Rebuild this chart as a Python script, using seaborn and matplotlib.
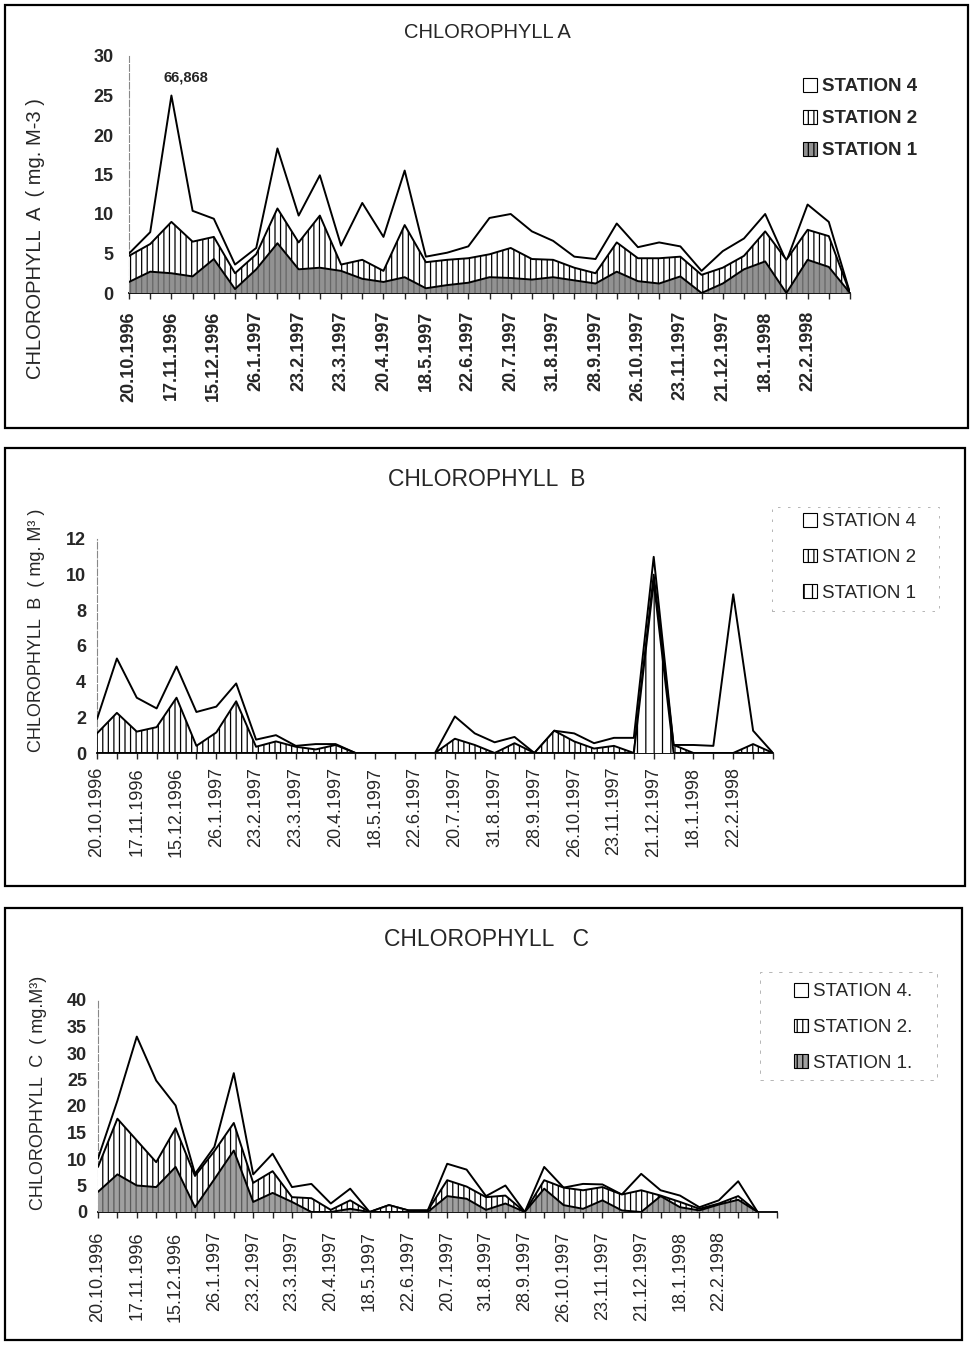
import numpy as np
import seaborn as sns
import matplotlib.pyplot as plt
from matplotlib.patches import Patch, Rectangle

# x-axis dates (every second sampling date is labelled)
dates = ["20.10.1996", "17.11.1996", "15.12.1996", "26.1.1997", "23.2.1997", "23.3.1997",
         "20.4.1997", "18.5.1997", "22.6.1997", "20.7.1997", "31.8.1997", "28.9.1997",
         "26.10.1997", "23.11.1997", "21.12.1997", "18.1.1998", "22.2.1998"]

# chlorophyll A (mg.M-3)
chl_a_st4 = [5.0, 7.7, 25.0, 10.4, 9.4, 3.6, 5.7, 18.3, 9.8, 14.9, 6.0, 11.4, 7.1, 15.5, 4.6,
             5.1, 5.9, 9.5, 10.0, 7.8, 6.6, 4.6, 4.3, 8.8, 5.8, 6.4, 5.9, 2.8, 5.3, 6.9,
             10.0, 4.0, 11.2, 9.0, 0.0]
chl_a_st2 = [4.7, 6.2, 9.0, 6.5, 7.1, 2.5, 4.9, 10.7, 6.4, 9.8, 3.6, 4.2, 2.8, 8.6, 3.9,
             4.2, 4.4, 4.9, 5.7, 4.3, 4.2, 3.2, 2.5, 6.4, 4.4, 4.4, 4.6, 2.3, 3.2, 4.7,
             7.8, 4.2, 8.0, 7.2, 0.0]
chl_a_st1 = [1.4, 2.7, 2.5, 2.1, 4.3, 0.5, 3.0, 6.3, 3.0, 3.2, 2.8, 1.8, 1.4, 2.0, 0.6,
             1.0, 1.3, 2.0, 1.9, 1.7, 2.0, 1.6, 1.2, 2.7, 1.5, 1.2, 2.1, 0.0, 1.2, 3.0,
             4.0, 0.0, 4.2, 3.3, 0.0]

# chlorophyll B (mg.M3)
chl_b_st4 = [1.9, 5.3, 3.1, 2.5, 4.85, 2.3, 2.6, 3.9, 0.75, 1.0, 0.4, 0.5, 0.5, 0.0, 0.0,
             0.0, 0.0, 0.0, 2.05, 1.1, 0.6, 0.9, 0.0, 1.25, 1.1, 0.55, 0.85, 0.85, 11.0, 0.45,
             0.45, 0.4, 8.9, 1.25, 0.0]
chl_b_st2 = [1.1, 2.25, 1.2, 1.45, 3.1, 0.4, 1.15, 2.9, 0.35, 0.65, 0.35, 0.2, 0.45, 0.0, 0.0,
             0.0, 0.0, 0.0, 0.8, 0.45, 0.0, 0.55, 0.0, 1.25, 0.65, 0.25, 0.4, 0.0, 10.0, 0.45,
             0.0, 0.0, 0.0, 0.5, 0.0]
chl_b_st1 = [0.0, 0.0, 0.0, 0.0, 0.0, 0.0, 0.0, 0.0, 0.0, 0.0, 0.0, 0.0, 0.0, 0.0, 0.0,
             0.0, 0.0, 0.0, 0.0, 0.0, 0.0, 0.0, 0.0, 0.0, 0.0, 0.0, 0.0, 0.0, 9.6, 0.0,
             0.0, 0.0, 0.0, 0.0, 0.0]

# chlorophyll C (mg.M3)
chl_c_st4 = [10.1, 21.0, 33.1, 24.8, 20.1, 7.2, 12.3, 26.2, 7.1, 11.0, 4.7, 5.3, 1.6, 4.4, 0.0,
             1.3, 0.3, 0.3, 9.1, 8.0, 3.0, 5.0, 0.0, 8.5, 4.6, 5.3, 5.2, 3.3, 7.2, 4.1,
             3.1, 0.9, 2.2, 5.8, 0.0]
chl_c_st2 = [8.5, 17.6, 13.5, 9.4, 15.8, 6.8, 11.5, 16.8, 5.5, 7.7, 2.8, 2.6, 0.4, 2.2, 0.0,
             1.3, 0.3, 0.3, 6.0, 4.8, 2.8, 3.1, 0.0, 6.0, 4.6, 4.1, 4.7, 3.3, 4.1, 3.1,
             1.9, 0.6, 1.6, 3.0, 0.0]
chl_c_st1 = [3.8, 7.1, 5.0, 4.7, 8.5, 0.9, 6.2, 11.6, 1.9, 3.6, 1.9, 0.0, 0.0, 0.6, 0.0,
             0.0, 0.0, 0.0, 3.0, 2.5, 0.4, 1.6, 0.0, 4.4, 1.3, 0.6, 2.2, 0.3, 0.0, 3.0,
             0.9, 0.3, 1.4, 2.3, 0.0]

sns.set_style("white")
plt.rcParams['font.family'] = ['Liberation Sans', 'DejaVu Sans']
plt.rcParams['hatch.linewidth'] = 0.9

W, H = 972, 1345
fig = plt.figure(figsize=(W / 100, H / 100), dpi=100)


def fx(px):
    return px / W


def fy(py):
    return 1 - py / H


def box(l, t, r, b, **kw):
    fig.add_artist(Rectangle((fx(l), fy(b)), fx(r - l), (b - t) / H, transform=fig.transFigure,
                             fill=False, **kw))


def panel(rect_px, series, styles, labels, ylim, yticks, ncat, title, tpos, title_size,
          ylabel, ypos, ylabel_size, leg_pos, leg_space, tick_bold, leg_bold, ypad, xpad):
    x0, x1, ytop, ybot = rect_px
    ax = fig.add_axes([fx(x0), fy(ybot), fx(x1 - x0), (ybot - ytop) / H])
    x = np.arange(len(series[0]))
    for z, (vals, (fc, hatch, hc)) in enumerate(zip(series, styles)):
        ax.fill_between(x, 0, vals, facecolor=fc, hatch=hatch, edgecolor=hc, lw=0,
                        zorder=2 + 2 * z)
        sns.lineplot(x=x, y=vals, ax=ax, color="black", lw=1.4, zorder=3 + 2 * z,
                     legend=False)
    ax.set_xlim(0, ncat)
    ax.set_ylim(*ylim)
    ax.set_yticks(yticks)
    ax.set_yticklabels([str(t) for t in yticks], fontsize=13, fontweight="bold")
    ticklabs = [dates[i // 2] if i % 2 == 0 and i // 2 < len(dates) else "" for i in range(ncat + 1)]
    ax.set_xticks(range(ncat + 1))
    ax.set_xticklabels(ticklabs, rotation=90, fontsize=13,
                       fontweight="bold" if tick_bold else "normal")
    ax.tick_params(axis="x", direction="out", length=4, width=1, pad=xpad, bottom=True)
    ax.tick_params(axis="y", length=0, pad=ypad)
    for s in ["top", "right"]:
        ax.spines[s].set_visible(False)
    ax.spines["bottom"].set_color("black")
    ax.spines["bottom"].set_linewidth(1.3)
    ax.spines["left"].set_color("#888888")
    ax.spines["left"].set_linewidth(0.8)
    ax.spines["left"].set_linestyle((0, (6, 2)))
    ax.set_xlabel("")
    ax.set_ylabel(ylabel, fontsize=ylabel_size)
    ax.yaxis.set_label_coords(fx(ypos[0]), fy(ypos[1]), transform=fig.transFigure)
    fig.text(fx(tpos[0]), fy(tpos[1]), title, ha="center", va="center", fontsize=title_size)
    handles = [Patch(facecolor=fc, hatch=hatch, edgecolor="black", lw=0.8)
               for fc, hatch, hc in styles]
    ax.legend(handles, labels, loc="upper left", bbox_to_anchor=(fx(leg_pos[0]), fy(leg_pos[1])),
              bbox_transform=fig.transFigure, frameon=False, handlelength=0.75,
              handleheight=0.75, handletextpad=0.25, labelspacing=leg_space,
              prop={"size": 13.5, "weight": "bold" if leg_bold else "normal"})
    return ax


white = ("white", None, "black")
vhatch = ("white", "|||", "black")

# panel A
ax_a = panel((129, 850, 56, 293), [chl_a_st4, chl_a_st2, chl_a_st1],
             [white, vhatch, ("#929292", "|||", "#666666")],
             ["STATION 4", "STATION 2", "STATION 1"], (0, 30), [0, 5, 10, 15, 20, 25, 30], 34,
             "CHLOROPHYLL A", (487, 32), 14.5, "CHLOROPHYLL  A  ( mg. M-3 )", (45, 239), 14.5,
             (786, 61), 0.78, True, True, 11, 9)
ax_a.text(2.7, 27.3, "66,868", ha="center", va="center", fontsize=10.5, fontweight="bold")

# panel B
panel((97, 773, 539, 753), [chl_b_st4, chl_b_st2, chl_b_st1],
      [white, vhatch, ("white", "||", "black")],
      ["STATION 4", "STATION 2", "STATION 1"], (0, 12), [0, 2, 4, 6, 8, 10, 12], 34,
      "CHLOROPHYLL  B", (487, 480), 16.5, "CHLOROPHYLL  B  ( mg. M³ )", (45, 630), 13,
      (786, 496), 0.98, False, False, 8, 6)

# panel C
panel((98, 777, 1000, 1212), [chl_c_st4, chl_c_st2, chl_c_st1],
      [white, vhatch, ("#a0a0a0", "|||", "#5a5a5a")],
      ["STATION 4.", "STATION 2.", "STATION 1."], (0, 40), [0, 5, 10, 15, 20, 25, 30, 35, 40], 35,
      "CHLOROPHYLL   C", (487, 940), 16.5, "CHLOROPHYLL  C  ( mg.M³)", (47, 1093), 13,
      (777, 966), 0.98, False, False, 8, 10)

# faint legend frames (B and C)
box(772, 507, 939, 611, lw=0.6, edgecolor="#aaaaaa", linestyle=(0, (3, 9)))
box(760, 972, 937, 1080, lw=0.6, edgecolor="#aaaaaa", linestyle=(0, (4, 8)))

# frames around each chart
for (l, t, r, b) in [(5, 5, 968, 428), (5, 448, 965, 886), (5, 908, 962, 1340)]:
    box(l, t, r, b, lw=1.6, edgecolor="black")

fig.savefig("out.png", dpi=100)
